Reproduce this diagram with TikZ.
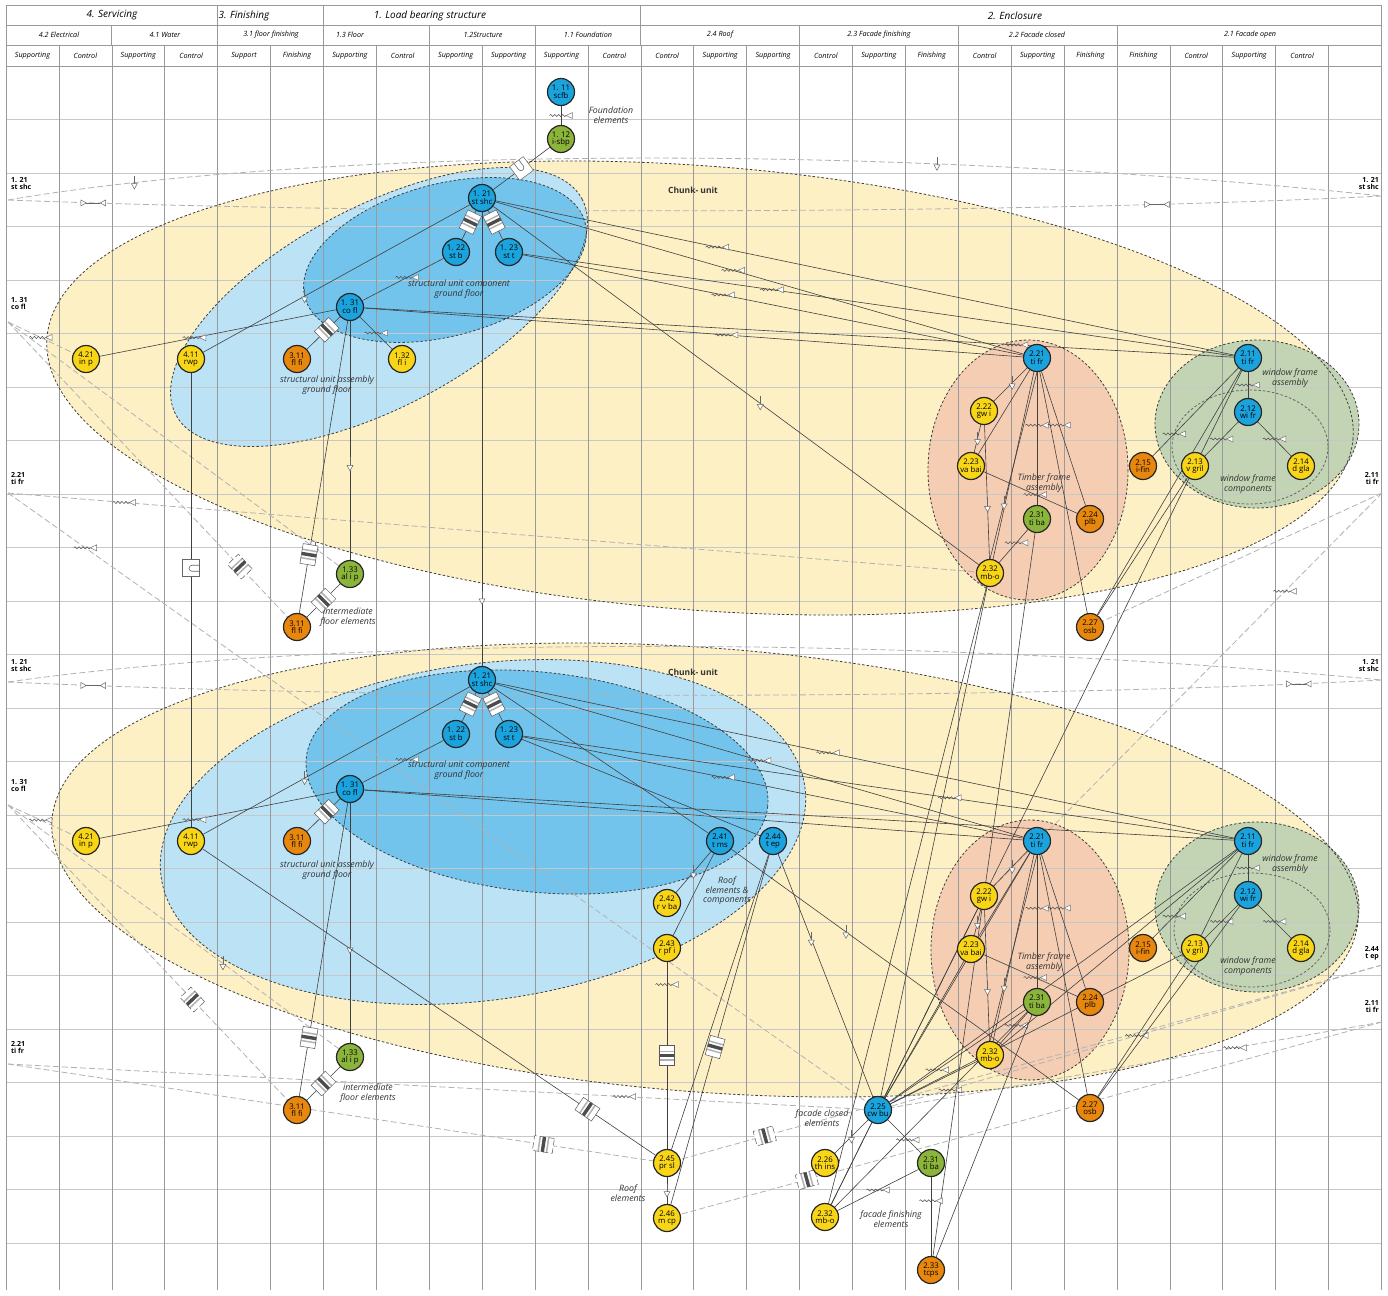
\documentclass[tikz,border=0pt]{standalone}
\usepackage{fontspec}
\setmainfont{Open Sans}
\usetikzlibrary{decorations.pathmorphing}

\definecolor{chunkfill}{HTML}{FDF0C4}
\definecolor{sualight}{HTML}{BCE2F6}
\definecolor{sucdark}{HTML}{72C4EC}
\definecolor{timberfill}{HTML}{F5CDB3}
\definecolor{windowfill}{HTML}{C2D4B4}
\definecolor{elblue}{HTML}{1BA3DD}
\definecolor{elyellow}{HTML}{F8D516}
\definecolor{elorange}{HTML}{E8870E}
\definecolor{elgreen}{HTML}{8BB43B}

\pgfdeclarelayer{fills}
\pgfdeclarelayer{gridl}
\pgfdeclarelayer{edges}
\pgfsetlayers{fills,gridl,edges,main}

\tikzset{
  elem/.style={circle, draw=black!85, line width=1.2pt, minimum size=27pt, inner sep=0pt,
    align=center, font=\fontsize{7.8}{7.6}\selectfont},
  bel/.style={elem, fill=elblue},
  yel/.style={elem, fill=elyellow},
  oel/.style={elem, fill=elorange},
  gel/.style={elem, fill=elgreen},
  conn/.style={draw=black!75, line width=.6pt},
  dline/.style={draw=black!30, line width=.8pt, dash pattern=on 6pt off 3pt},
  zone/.style={draw=black!75, line width=.8pt, dash pattern=on 2.5pt off 2pt},
  grp/.style={font=\fontsize{8.8}{9.5}\selectfont\itshape, align=center, text=black!80, inner sep=1pt},
  side/.style={font=\fontsize{7}{7.5}\selectfont\bfseries, inner sep=0pt},
  htop/.style={font=\fontsize{10}{10}\selectfont\itshape, inner sep=0pt},
  hsub/.style={font=\fontsize{7.2}{8}\selectfont\itshape, inner sep=0pt},
  sbox/.style={sloped, draw=black!65, fill=white, line width=.5pt, minimum width=20pt,
    minimum height=15pt, inner sep=0pt, path picture={
      \fill[black!70] (-1.7pt,-10pt) rectangle (1.7pt,10pt);
      \fill[black!30] (-5pt,-10pt) rectangle (-3.5pt,10pt);
      \fill[black!30] (3.5pt,-10pt) rectangle (5pt,10pt);}},
  pbox/.style={sloped, draw=black!60, fill=white, line width=.5pt, minimum size=17pt, inner sep=0pt,
    path picture={\draw[solid, black!60, line width=.6pt] (-3pt,9pt) -- (-3pt,1pt)
      arc[start angle=180, end angle=360, radius=3pt] -- (3pt,9pt);}},
  wmark/.style={minimum width=24pt, minimum height=8pt, inner sep=0pt, path picture={
      \draw[solid, black!70, line width=.5pt, decorate, decoration={snake, amplitude=1.1pt, segment length=4pt}]
        (-11.5pt,0pt) -- (5pt,0pt);
      \draw[solid, black!55, fill=white, line width=.5pt] (5pt,0pt) -- (11.4pt,3pt) -- (11.4pt,-3pt) -- cycle;}},
  amark/.style={minimum width=8pt, minimum height=14pt, inner sep=0pt, path picture={
      \draw[solid, black!60, line width=.5pt] (0pt,7pt) -- (0pt,-1pt);
      \draw[solid, black!60, fill=white, line width=.5pt] (0pt,-6.4pt) -- (-3pt,-1pt) -- (3pt,-1pt) -- cycle;}},
  dmark/.style={minimum width=26pt, minimum height=8pt, inner sep=0pt, path picture={
      \draw[solid, black!60, line width=.5pt] (-7pt,0pt) -- (7pt,0pt);
      \draw[solid, black!60, fill=white, line width=.5pt] (-12.4pt,3pt) -- (-7pt,0pt) -- (-12.4pt,-3pt) -- cycle;
      \draw[solid, black!60, fill=white, line width=.5pt] (12.4pt,3pt) -- (7pt,0pt) -- (12.4pt,-3pt) -- cycle;}},
}

\begin{document}
\begin{tikzpicture}[x=1pt, y=-1pt]
  \useasboundingbox (0,0) rectangle (1388,1295);

  % zones
  \begin{pgfonlayer}{fills}
    \fill[white] (0,0) rectangle (1388,1295);
    \fill[chunkfill, rotate around={-4.4:(700,388)}] (700,388) ellipse [x radius=655, y radius=222];
    \fill[chunkfill, rotate around={-4.4:(705,870)}] (705,870) ellipse [x radius=655, y radius=222];
    \fill[sualight, rotate around={28:(379,307)}] (379,307) ellipse [x radius=230, y radius=100];
    \fill[sucdark, rotate around={15:(445,260)}] (445,260) ellipse [x radius=145, y radius=76];
    \fill[sualight, rotate around={8:(483,832)}] (483,832) ellipse [x radius=325, y radius=168];
    \fill[sucdark, rotate around={-6:(537,782)}] (537,782) ellipse [x radius=232, y radius=110];
    \fill[timberfill] (1028,470) ellipse [x radius=100, y radius=130];
    \fill[timberfill] (1030,950) ellipse [x radius=99, y radius=130];
    \fill[windowfill] (1257,424) ellipse [x radius=102, y radius=84];
    \fill[windowfill] (1257,907) ellipse [x radius=102, y radius=85];
  \end{pgfonlayer}

  % table grid and headers
  \begin{pgfonlayer}{gridl}
    \foreach \k in {1,...,23}
      \draw[black!22, line width=.6pt] (6,66+53.5*\k) -- (1382,66+53.5*\k);
    \foreach \y in {5,25,45,66}
      \draw[black!40, line width=.7pt] (6,\y) -- (1382,\y);
    \foreach \i in {0,4,6,12,26}
      \draw[black!40, line width=.7pt] (6+52.9*\i,5) -- (6+52.9*\i,25);
    \foreach \i in {0,2,4,6,8,10,12,15,18,21,26}
      \draw[black!40, line width=.7pt] (6+52.9*\i,25) -- (6+52.9*\i,45);
    \foreach \i in {0,...,26}
      \draw[black!40, line width=.6pt] (6+52.9*\i,45) -- (6+52.9*\i,1290);

    \draw[zone, rotate around={-4.4:(700,388)}] (700,388) ellipse [x radius=655, y radius=222];
    \draw[zone, rotate around={-4.4:(705,870)}] (705,870) ellipse [x radius=655, y radius=222];
    \draw[zone, rotate around={28:(379,307)}] (379,307) ellipse [x radius=230, y radius=100];
    \draw[zone, rotate around={15:(445,260)}] (445,260) ellipse [x radius=145, y radius=76];
    \draw[zone, rotate around={8:(483,832)}] (483,832) ellipse [x radius=325, y radius=168];
    \draw[zone, rotate around={-6:(537,782)}] (537,782) ellipse [x radius=232, y radius=110];
    \draw[zone] (1028,470) ellipse [x radius=100, y radius=130];
    \draw[zone] (1030,950) ellipse [x radius=99, y radius=130];
    \draw[zone] (1257,424) ellipse [x radius=102, y radius=84];
    \draw[zone] (1257,907) ellipse [x radius=102, y radius=85];
    \draw[zone, draw=black!60] (1250,447) ellipse [x radius=78, y radius=57];
    \draw[zone, draw=black!60] (1252,930) ellipse [x radius=78, y radius=57];
  \end{pgfonlayer}

  \node[htop] (hserv) at (112,15.5) {4. Servicing};
  \node[htop] (hfin) at (244,15.5) {3. Finishing};
  \node[htop] (hload) at (430,15.5) {1. Load bearing structure};
  \node[htop] (hencl) at (1015,15.5) {2. Enclosure};
  \node[hsub] (g42) at (59,35) {4.2 Electrical};
  \node[hsub] (g41) at (165,35) {4.1 Water};
  \node[hsub] (g31) at (271,35) {3.1 floor finishing};
  \node[hsub] (g13) at (350,35) {1.3 Floor};
  \node[hsub] (g12) at (483,35) {1.2Structure};
  \node[hsub] (g11) at (588,35) {1.1 Foundation};
  \node[hsub] (g24) at (720,35) {2.4 Roof};
  \node[hsub] (g23) at (879,35) {2.3 Facade finishing};
  \node[hsub] (g22) at (1037,35) {2.2 Facade closed};
  \node[hsub] (g21) at (1250,35) {2.1 Facade open};
  \foreach \t [count=\i from 0] in {Supporting,Control,Supporting,Control,Support,Finishing,
      Supporting,Control,Supporting,Supporting,Supporting,Control,Control,Supporting,Supporting,
      Control,Supporting,Finishing,Control,Supporting,Finishing,Finishing,Control,Supporting,Control}
    \node[hsub] (c\i) at (6+52.9*\i+26.45,55.5) {\t};

  % side references
  \node[side, anchor=north west, align=left] (sl1) at (11,177) {1. 21\\st shc};
  \node[side, anchor=north west, align=left] (sl2) at (11,297) {1. 31\\co fl};
  \node[side, anchor=north west, align=left] (sl3) at (11,472) {2.21\\ti fr};
  \node[side, anchor=north east, align=right] (sr1) at (1379,177) {1. 21\\st shc};
  \node[side, anchor=north east, align=right] (sr2) at (1379,472) {2.11\\ti fr};
  \node[side, anchor=north west, align=left] (sl4) at (11,659) {1. 21\\st shc};
  \node[side, anchor=north west, align=left] (sl5) at (11,779) {1. 31\\co fl};
  \node[side, anchor=north west, align=left] (sl6) at (11,1041) {2.21\\ti fr};
  \node[side, anchor=north east, align=right] (sr3) at (1379,659) {1. 21\\st shc};
  \node[side, anchor=north east, align=right] (sr4) at (1379,946) {2.44\\t ep};
  \node[side, anchor=north east, align=right] (sr5) at (1379,1000) {2.11\\ti fr};
  \coordinate (lu1) at (8,200);
  \coordinate (ru1) at (1382,196);
  \coordinate (lu2) at (8,322);
  \coordinate (lu3) at (8,493);
  \coordinate (ru2) at (1382,493);
  \coordinate (ll1) at (8,682);
  \coordinate (rl1) at (1382,680);
  \coordinate (ll2) at (8,805);
  \coordinate (ll3) at (8,1064);
  \coordinate (rl2) at (1382,965);
  \coordinate (rl3) at (1382,1022);

  % group labels
  \node[grp] (gfound) at (611,115) {Foundation\\elements};
  \node[font=\fontsize{8.5}{9}\selectfont\bfseries, text=black!80] (gchunku) at (693,190) {Chunk- unit};
  \node[font=\fontsize{8.5}{9}\selectfont\bfseries, text=black!80] (gchunkl) at (693,672) {Chunk- unit};
  \node[grp] (gsucu) at (459,289) {structural unit component\\ground floor};
  \node[grp] (gsucl) at (459,770) {structural unit component\\ground floor};
  \node[grp] (gsuau) at (327,385) {structural unit assembly\\ground floor};
  \node[grp] (gsual) at (327,870) {structural unit assembly\\ground floor};
  \node[grp] (gintu) at (348,617) {intermediate\\floor elements};
  \node[grp] (gintl) at (368,1093) {intermediate\\floor elements};
  \node[grp] (gwfau) at (1290,378) {window frame\\assembly};
  \node[grp] (gwfal) at (1290,864) {window frame\\assembly};
  \node[grp] (gtfau) at (1044,483) {Timber frame\\assembly};
  \node[grp] (gtfal) at (1044,962) {Timber frame\\assembly};
  \node[grp] (gwfcu) at (1248,484) {window frame\\components};
  \node[grp] (gwfcl) at (1248,966) {window frame\\components};
  \node[grp] (groofc) at (727,891) {Roof\\elements \&\\components};
  \node[grp] (groof) at (628,1193) {Roof\\elements};
  \node[grp] (gfclosed) at (822,1118) {facade closed\\elements};
  \node[grp] (gffin) at (891,1219) {facade finishing\\elements};

  % elements, first storey
  \node[bel] (u111) at (561,92) {1. 11\\scfb};
  \node[gel] (u112) at (561,139) {1. 12\\i-sbp};
  \node[bel] (u121) at (482,198) {1. 21\\st shc};
  \node[bel] (u122) at (456,252) {1. 22\\st b};
  \node[bel] (u123) at (509,252) {1. 23\\st t};
  \node[bel] (u131) at (350,307) {1. 31\\co fl};
  \node[yel] (u421) at (86,359) {4.21\\in p};
  \node[yel] (u411) at (191,359) {4.11\\rwp};
  \node[oel] (u311) at (297,359) {3.11\\fl fi};
  \node[yel] (u132) at (402,359) {1.32\\fl i};
  \node[gel] (u133) at (350,574) {1.33\\al i p};
  \node[oel] (u311b) at (297,627) {3.11\\fl fi};
  \node[bel] (u221) at (1037,358) {2.21\\ti fr};
  \node[yel] (u222) at (984,411) {2.22\\gw i};
  \node[yel] (u223) at (971,466) {2.23\\va bai};
  \node[gel] (u231) at (1037,519) {2.31\\ti ba};
  \node[oel] (u224) at (1090,519) {2.24\\plb};
  \node[yel] (u232) at (990,573) {2.32\\mb-o};
  \node[oel] (u227) at (1090,627) {2.27\\osb};
  \node[bel] (u211) at (1248,358) {2.11\\ti fr};
  \node[bel] (u212) at (1248,412) {2.12\\wi fr};
  \node[oel] (u215) at (1143,466) {2.15\\i-fin};
  \node[yel] (u213) at (1195,466) {2.13\\v gril};
  \node[yel] (u214) at (1301,466) {2.14\\d gla};

  % elements, second storey
  \node[bel] (l121) at (482,680) {1. 21\\st shc};
  \node[bel] (l122) at (456,734) {1. 22\\st b};
  \node[bel] (l123) at (509,734) {1. 23\\st t};
  \node[bel] (l131) at (350,789) {1. 31\\co fl};
  \node[yel] (l421) at (86,841) {4.21\\in p};
  \node[yel] (l411) at (191,841) {4.11\\rwp};
  \node[oel] (l311) at (297,841) {3.11\\fl fi};
  \node[gel] (l133) at (350,1057) {1.33\\al i p};
  \node[oel] (l311b) at (297,1110) {3.11\\fl fi};
  \node[bel] (l241) at (720,841) {2.41\\t ms};
  \node[bel] (l244) at (773,841) {2.44\\t ep};
  \node[yel] (l242) at (667,903) {2.42\\r v ba};
  \node[yel] (l243) at (667,948) {2.43\\r pf i};
  \node[yel] (l245) at (667,1163) {2.45\\pr sl};
  \node[yel] (l246) at (667,1218) {2.46\\m cp};
  \node[bel] (l221) at (1037,841) {2.21\\ti fr};
  \node[yel] (l222) at (984,896) {2.22\\gw i};
  \node[yel] (l223) at (971,949) {2.23\\va bai};
  \node[gel] (l231) at (1037,1002) {2.31\\ti ba};
  \node[oel] (l224) at (1090,1002) {2.24\\plb};
  \node[yel] (l232) at (990,1055) {2.32\\mb-o};
  \node[oel] (l227) at (1090,1108) {2.27\\osb};
  \node[bel] (l211) at (1248,841) {2.11\\ti fr};
  \node[bel] (l212) at (1248,895) {2.12\\wi fr};
  \node[oel] (l215) at (1143,948) {2.15\\i-fin};
  \node[yel] (l213) at (1195,948) {2.13\\v gril};
  \node[yel] (l214) at (1301,948) {2.14\\d gla};
  \node[bel] (l225) at (878,1110) {2.25\\cw bu};
  \node[yel] (l226) at (825,1163) {2.26\\th ins};
  \node[gel] (l231b) at (931,1163) {2.31\\ti ba};
  \node[yel] (l232b) at (825,1217) {2.32\\mb-o};
  \node[oel] (l233) at (931,1270) {2.33\\tcps};

  \begin{pgfonlayer}{edges}
    % references across the chunk boundary
    \draw[dline] (lu1) .. controls (300,150) and (850,140) .. node[amark, pos=.13]{} node[amark, pos=.72]{} (ru1);
    \draw[dline] (lu1) .. controls (400,215) and (1000,215) .. node[dmark, pos=.07]{} node[dmark, pos=.82]{} (ru1);
    \draw[dline] (lu2) -- node[wmark, pos=.5]{} (u421);
    \draw[dline] (lu2) -- node[sbox, pos=.83]{} (u311b);
    \draw[dline] (lu2) -- node[amark, pos=.93]{} (u133);
    \draw[dline] (lu3) -- node[wmark, pos=.09]{} (l225);
    \draw[dline] (lu3) -- node[wmark, pos=.12]{} (u232);
    \draw[dline] (ru2) -- (u227);
    \draw[dline] (ru2) -- node[wmark, pos=.25]{} (l222);
    \draw[dline] (ll1) .. controls (300,640) and (850,630) .. (rl1);
    \draw[dline] (ll1) .. controls (400,700) and (1000,700) .. node[dmark, pos=.07]{} node[dmark, pos=.93]{} (rl1);
    \draw[dline] (ll2) -- node[wmark, pos=.5]{} (l421);
    \draw[dline] (ll2) -- node[sbox, pos=.66]{} (l311b);
    \draw[dline] (ll2) -- node[amark, pos=.65]{} (l133);
    \draw[dline] (ll3) -- node[sbox, pos=.83]{} (l245);
    \draw[dline] (ll3) -- node[wmark, pos=.72]{} (l225);
    \draw[dline] (rl2) -- node[sbox, pos=.88]{} (l245);
    \draw[dline] (rl2) -- node[wmark, pos=.5]{} (l225);
    \draw[dline] (rl3) -- node[sbox, pos=.82]{} (l246);
    \draw[dline] (rl3) -- node[wmark, pos=.3]{} (l225);

    % first storey
    \draw[conn] (u111) -- node[wmark]{} (u112);
    \draw[conn] (u112) -- node[pbox]{} (u121);
    \draw[conn] (u121) -- node[sbox, pos=.4]{} (u122);
    \draw[conn] (u121) -- node[sbox, pos=.4]{} (u123);
    \draw[conn] (u121) -- node[amark, pos=.62]{} (u411);
    \draw[conn] (u121) -- node[amark, pos=.85]{} (l121);
    \draw[conn] (u121) -- node[wmark, pos=.45]{} (u221);
    \draw[conn] (u121) -- node[wmark, pos=.3]{} (u211);
    \draw[conn] (u121) -- node[amark, pos=.55]{} (u232);
    \draw[conn] (u123) -- node[wmark, pos=.4]{} (u221);
    \draw[conn] (u123) -- node[wmark, pos=.35]{} (u211);
    \draw[conn] (u122) -- node[wmark, pos=.45]{} (u131);
    \draw[conn] (u131) -- node[wmark, pos=.6]{} (u421);
    \draw[conn] (u131) -- node[sbox, pos=.4]{} (u311);
    \draw[conn] (u131) -- node[wmark, pos=.5]{} (u132);
    \draw[conn] (u131) -- node[wmark, pos=.55]{} (u221);
    \draw[conn] (u131) -- node[wmark, pos=.75]{} (u211);
    \draw[conn] (u131) -- node[amark, pos=.6]{} (u133);
    \draw[conn] (u131) -- node[sbox, pos=.8]{} (u311b);
    \draw[conn] (u411) -- node[pbox, pos=.43]{} (l411);
    \draw[conn] (u133) -- node[sbox]{} (u311b);
    \draw[conn] (u221) -- node[amark, pos=.45]{} (u222);
    \draw[conn] (u221) -- (u223);
    \draw[conn] (u221) -- (u232);
    \draw[conn] (u221.south) -- node[amark, pos=.7]{} (u232.north);
    \draw[conn] (u221) -- node[wmark, pos=.4]{} (u231);
    \draw[conn] (u221) -- node[wmark, pos=.4]{} (u224);
    \draw[conn] (u221) -- (u227);
    \draw[conn] (u222) -- node[amark]{} (u223);
    \draw[conn] (u222) -- node[amark, pos=.6]{} (u232);
    \draw[conn] (u223) -- node[wmark, pos=.55]{} (u224);
    \draw[conn] (u231) -- node[wmark, pos=.4]{} (u232);
    \draw[conn] (u211) -- node[wmark]{} (u212);
    \draw[conn] (u211) -- node[wmark, pos=.75]{} (u215);
    \draw[conn] (u211) -- (u213);
    \draw[conn] (u212) -- node[wmark]{} (u213);
    \draw[conn] (u212) -- node[wmark]{} (u214);
    \draw[conn] (u227) -- (u213);
    \draw[conn] (u227) -- (u211);
    \draw[conn] (u232) -- (l225);
    \draw[conn] (u232) -- (l232b);
    \draw[conn] (u231) -- (l233);
    \draw[conn] (u213) -- (l222);

    % second storey
    \draw[conn] (l121) -- node[sbox, pos=.4]{} (l122);
    \draw[conn] (l121) -- node[sbox, pos=.4]{} (l123);
    \draw[conn] (l121) -- node[amark, pos=.62]{} (l411);
    \draw[conn] (l121) -- node[wmark, pos=.5]{} (l221);
    \draw[conn] (l121) -- node[wmark, pos=.45]{} (l211);
    \draw[conn] (l121) -- (l241);
    \draw[conn] (l123) -- (l244);
    \draw[conn] (l123) -- node[wmark, pos=.4]{} (l221);
    \draw[conn] (l123) -- node[wmark, pos=.6]{} (l211);
    \draw[conn] (l122) -- node[wmark, pos=.45]{} (l131);
    \draw[conn] (l131) -- node[wmark, pos=.6]{} (l421);
    \draw[conn] (l131) -- node[sbox, pos=.4]{} (l311);
    \draw[conn] (l131) -- (l221);
    \draw[conn] (l131) -- (l211);
    \draw[conn] (l131) -- node[amark, pos=.6]{} (l133);
    \draw[conn] (l131) -- node[sbox, pos=.8]{} (l311b);
    \draw[conn] (l133) -- node[sbox]{} (l311b);
    \draw[conn] (l411) -- node[sbox, pos=.85]{} (l245);
    \draw[conn] (l241) -- node[amark, pos=.5]{} (l242);
    \draw[conn] (l241) -- (l243);
    \draw[conn] (l241) -- node[amark, pos=.33]{} (l227);
    \draw[conn] (l243) -- node[wmark, pos=.12]{} node[sbox, pos=.5]{} (l245);
    \draw[conn] (l244) -- (l245);
    \draw[conn] (l244) -- node[sbox, pos=.55]{} (l246);
    \draw[conn] (l244) -- node[amark, pos=.35]{} (l225);
    \draw[conn] (l245) -- node[amark]{} (l246);
    \draw[conn] (l221) -- node[amark, pos=.45]{} (l222);
    \draw[conn] (l221) -- (l223);
    \draw[conn] (l221) -- (l232);
    \draw[conn] (l221.south) -- node[amark, pos=.7]{} (l232.north);
    \draw[conn] (l221) -- node[wmark, pos=.4]{} (l231);
    \draw[conn] (l221) -- node[wmark, pos=.4]{} (l224);
    \draw[conn] (l221) -- (l227);
    \draw[conn] (l222) -- node[amark]{} (l223);
    \draw[conn] (l222) -- node[amark, pos=.6]{} (l232);
    \draw[conn] (l223) -- node[wmark, pos=.55]{} (l224);
    \draw[conn] (l231) -- node[wmark, pos=.4]{} (l232);
    \draw[conn] (l211) -- node[wmark]{} (l212);
    \draw[conn] (l211) -- node[wmark, pos=.75]{} (l215);
    \draw[conn] (l211) -- (l213);
    \draw[conn] (l211) -- (l232);
    \draw[conn] (l212) -- node[wmark]{} (l213);
    \draw[conn] (l212) -- node[wmark]{} (l214);
    \draw[conn] (l227) -- (l213);
    \draw[conn] (l227) -- (l212);
    \draw[conn] (l225) -- (l221);
    \draw[conn] (l225) -- (l222);
    \draw[conn] (l225) -- (l223);
    \draw[conn] (l225) -- node[wmark, pos=.35]{} (l231);
    \draw[conn] (l225) -- (l232);
    \draw[conn] (l225) -- (l211);
    \draw[conn] (l225) -- (l213);
    \draw[conn] (l225) -- node[amark]{} (l226);
    \draw[conn] (l225) -- node[wmark, pos=.6]{} (l231b);
    \draw[conn] (l232b) -- (l225);
    \draw[conn] (l232b) -- (l222);
    \draw[conn] (l232b) -- node[wmark, pos=.6]{} (l231);
    \draw[conn] (l232b) -- node[wmark]{} (l231b);
    \draw[conn] (l231b) -- node[wmark, pos=.3]{} (l233);
    \draw[conn] (l233) -- (l231);
  \end{pgfonlayer}
\end{tikzpicture}
\end{document}
